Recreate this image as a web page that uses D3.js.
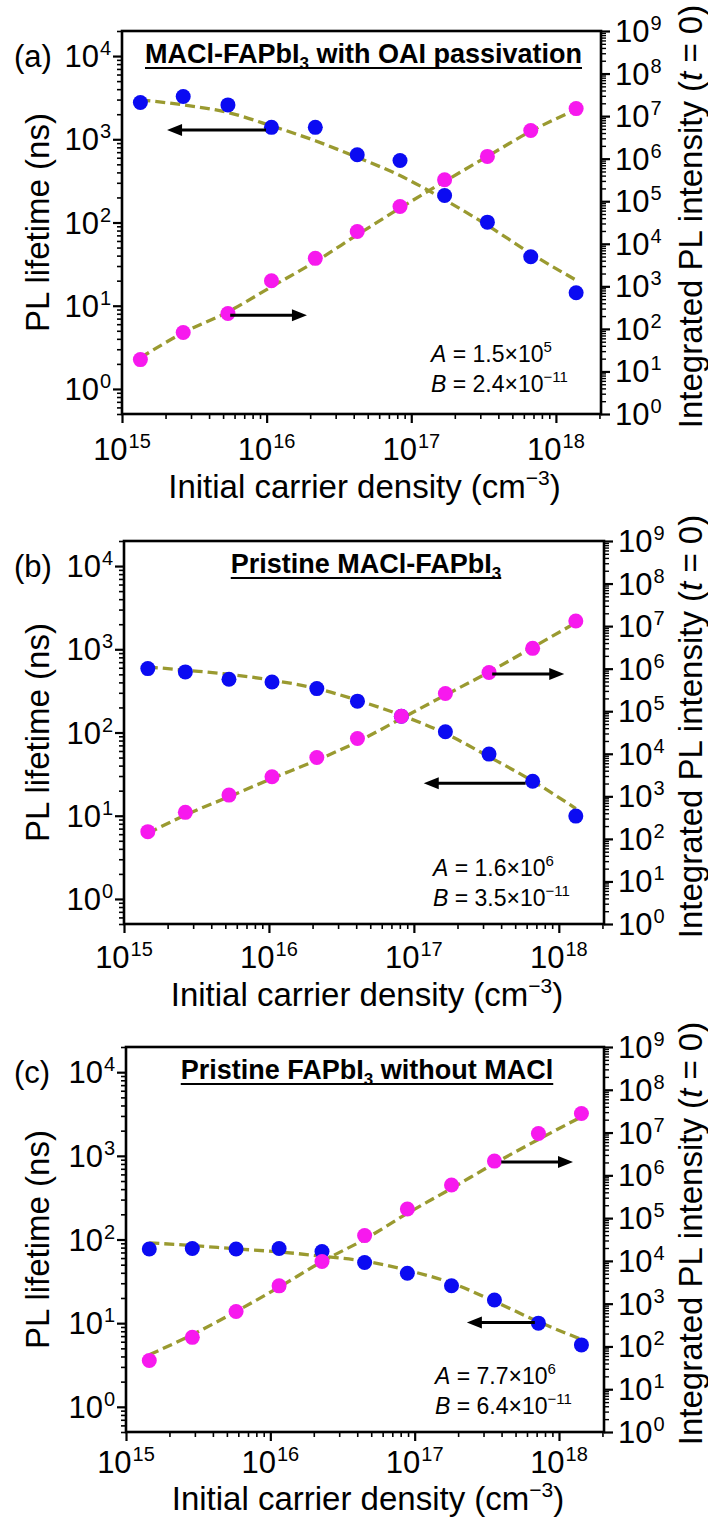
<!DOCTYPE html>
<html>
<head>
<meta charset="utf-8">
<script src="https://cdn.jsdelivr.net/npm/d3@7"></script>
<style>
  html, body { margin: 0; padding: 0; background: #fff; }
  svg { display: block; font-family: "Liberation Sans", Arial, Helvetica, sans-serif; }
</style>
</head>
<body>
<svg id="chart" width="708" height="1521"></svg>
<script>
// ---- Data -------------------------------------------------------------
// Initial carrier density (cm^-3) of each excitation fluence
const densityA = [1.34e15, 2.65e15, 5.4e15, 1.08e16, 2.17e16, 4.23e16, 8.36e16, 1.70e17, 3.36e17, 6.7e17, 1.38e18];
const densityB = [1.46e15, 2.65e15, 5.3e15, 1.05e16, 2.14e16, 4.08e16, 8.2e16, 1.65e17, 3.3e17, 6.6e17, 1.31e18];
const densityC = [1.45e15, 2.88e15, 5.79e15, 1.15e16, 2.28e16, 4.5e16, 8.9e16, 1.8e17, 3.57e17, 7.2e17, 1.43e18];

// PL lifetime (ns), left axis
const lifetimeA = [2770, 3260, 2590, 1390, 1390, 653, 555, 211, 101, 38.7, 14.3];
const lifetimeB = [586, 535, 437, 405, 337, 238, 157, 102, 55, 26, 9.9];
const lifetimeC = [77, 78, 77, 78, 72, 53, 39.5, 28, 18.9, 10, 5.5];

// Integrated PL intensity at t = 0, right axis
const intensityA = [19, 82, 230, 1350, 4550, 19400, 75000, 3.2e5, 1.13e6, 4.6e6, 1.5e7];
const intensityB = [148, 420, 1070, 2880, 8200, 22900, 76600, 2.6e5, 8.1e5, 3.0e6, 1.32e7];
const intensityC = [47, 163, 658, 2610, 9640, 39000, 1.63e5, 5.93e5, 2.15e6, 9.5e6, 2.79e7];

// Recombination model fits, sampled at the same densities
const lifetimeFitA = [2970, 2590, 2100, 1450, 960, 607, 366, 188, 92.5, 42.4, 20.3];
const lifetimeFitB = [614, 560, 501, 425, 337, 244, 161, 97.2, 51.1, 26.1, 12.2];
const lifetimeFitC = [91.2, 84.7, 77.3, 71.1, 63.1, 55, 42.9, 30.2, 18.2, 10.4, 6.4];
const intensityFitA = [21, 81, 251, 977, 3800, 16200, 69200, 2.92e5, 1.13e6, 4.4e6, 1.43e7];
const intensityFitB = [135, 363, 977, 2630, 7080, 19100, 67600, 2.4e5, 8.3e5, 3.16e6, 1.2e7];
const intensityFitC = [64, 188, 658, 2430, 9640, 32000, 1.29e5, 4.95e5, 1.9e6, 6.9e6, 2.33e7];

// Fitted coefficients
const coeffA = ["1.5", "5", "2.4", "\u221211"];
const coeffB = ["1.6", "6", "3.5", "\u221211"];
const coeffC = ["7.7", "6", "6.4", "\u221211"];

// Panel letters and sample names (prefix, subscript, suffix)
const panelLetters = ["(a)", "(b)", "(c)"];
const sampleNames = [
  ["MACl-FAPbI", "3", " with OAI passivation"],
  ["Pristine MACl-FAPbI", "3", ""],
  ["Pristine FAPbI", "3", " without MACl"]
];

// Direction arrows: [x tail, x head, lifetime-axis level]
const arrowsA = [[9.9e15, 2.05e15, 1290], [5.6e15, 1.9e16, 7.7]];
const arrowsB = [[3.47e17, 1.09e18, 506], [5.9e17, 1.17e17, 24.5]];
const arrowsC = [[3.98e17, 1.25e18, 845], [6.8e17, 2.3e17, 10.2]];

// Axis ranges
const densityDomain = [1e15, 2.05e18];
const lifetimeDomain = [0.5, 2e4];
const intensityDomain = [1, 1e9];

// ---- Layout -------------------------------------------------------------
const frames = [
  { left: 122, right: 601, top: 31, bottom: 414, blueOnTop: true,  coefY: 331, tickY: 46, titleY: 84 },
  { left: 124, right: 604, top: 541, bottom: 924, blueOnTop: false, coefY: 335, tickY: 44, titleY: 82 },
  { left: 126, right: 604, top: 1047, bottom: 1432, blueOnTop: false, coefY: 337, tickY: 41, titleY: 78 }
];

const panels = [
  { density: densityA, life: lifetimeA, inten: intensityA, lifeFit: lifetimeFitA, intenFit: intensityFitA, coef: coeffA, arrows: arrowsA },
  { density: densityB, life: lifetimeB, inten: intensityB, lifeFit: lifetimeFitB, intenFit: intensityFitB, coef: coeffB, arrows: arrowsB },
  { density: densityC, life: lifetimeC, inten: intensityC, lifeFit: lifetimeFitC, intenFit: intensityFitC, coef: coeffC, arrows: arrowsC }
];

const BLUE = "#0b0bf2";
const PINK = "#f719ee";
const OLIVE = "#9a9a30";
const TICK_FONT = 31;
const SUP_FONT = 20;
const TITLE_FONT = 33;

const svg = d3.select("#chart");
const isDecade = v => Math.abs(Math.log10(v) - Math.round(Math.log10(v))) < 1e-9;

function cleanAxis(g, width) {
  g.select(".domain").remove();
  g.selectAll(".tick line").attr("stroke", "#000").attr("stroke-width", width);
}

// "10" with a raised exponent, aligned as a whole at px
function powerLabel(g, px, py, exp, align) {
  const base = g.append("text")
    .attr("font-size", TICK_FONT)
    .attr("y", py)
    .text("10");
  const w = base.node().getComputedTextLength();
  const sup = g.append("text")
    .attr("font-size", SUP_FONT)
    .attr("y", py - 12)
    .text(exp);
  const sw = sup.node().getComputedTextLength();
  const total = w + 1 + sw;
  let x0;
  if (align === "middle") x0 = px - total / 2;
  else if (align === "end") x0 = px - total;
  else x0 = px;
  base.attr("x", x0);
  sup.attr("x", x0 + w + 1);
}

panels.forEach((p, i) => {
  const f = frames[i];
  const g = svg.append("g");

  const x = d3.scaleLog().domain(densityDomain).range([f.left, f.right]);
  const yL = d3.scaleLog().domain(lifetimeDomain).range([f.bottom, f.top]);
  const yR = d3.scaleLog().domain(intensityDomain).range([f.bottom, f.top]);

  // ticks: decades are major, 2..9 multiples minor
  const xt = x.ticks(), lt = yL.ticks(), rt = yR.ticks();
  const xMaj = xt.filter(isDecade), xMin = xt.filter(v => !isDecade(v));
  const lMaj = lt.filter(isDecade), lMin = lt.filter(v => !isDecade(v));
  const rMaj = rt.filter(isDecade), rMin = rt.filter(v => !isDecade(v));

  const bx = g.append("g").attr("transform", `translate(0,${f.bottom})`);
  bx.append("g").call(d3.axisBottom(x).tickValues(xMin).tickSize(5).tickFormat("")).call(s => cleanAxis(s, 1.6));
  bx.append("g").call(d3.axisBottom(x).tickValues(xMaj).tickSize(9).tickFormat("")).call(s => cleanAxis(s, 2.2));

  const lx = g.append("g").attr("transform", `translate(${f.left},0)`);
  lx.append("g").call(d3.axisLeft(yL).tickValues(lMin).tickSize(5).tickFormat("")).call(s => cleanAxis(s, 1.6));
  lx.append("g").call(d3.axisLeft(yL).tickValues(lMaj).tickSize(9).tickFormat("")).call(s => cleanAxis(s, 2.2));

  const rx = g.append("g").attr("transform", `translate(${f.right},0)`);
  rx.append("g").call(d3.axisRight(yR).tickValues(rMin).tickSize(5).tickFormat("")).call(s => cleanAxis(s, 1.4));
  rx.append("g").call(d3.axisRight(yR).tickValues(rMaj).tickSize(9).tickFormat("")).call(s => cleanAxis(s, 2.2));

  // frame
  g.append("rect")
    .attr("x", f.left).attr("y", f.top)
    .attr("width", f.right - f.left).attr("height", f.bottom - f.top)
    .attr("fill", "none").attr("stroke", "#000").attr("stroke-width", 2.6);

  // tick labels
  const labels = g.append("g").attr("fill", "#000");
  xMaj.forEach(v => powerLabel(labels, x(v), f.bottom + f.tickY, String(Math.round(Math.log10(v))), "middle"));
  lMaj.forEach(v => powerLabel(labels, f.left - 11, yL(v) + 11, String(Math.round(Math.log10(v))), "end"));
  rMaj.forEach(v => powerLabel(labels, f.right + 14, yR(v) + 11, String(Math.round(Math.log10(v))), "start"));

  // panel letter
  g.append("text")
    .attr("x", 14).attr("y", yL(1e4) + 11)
    .attr("font-size", TICK_FONT)
    .text(panelLetters[i]);

  // axis titles
  const xTitle = g.append("text")
    .attr("x", (f.left + f.right) / 2 + 3).attr("y", f.bottom + f.titleY)
    .attr("text-anchor", "middle").attr("font-size", TITLE_FONT);
  xTitle.append("tspan").text("Initial carrier density (cm");
  xTitle.append("tspan").attr("font-size", 21).attr("dy", -13).text("\u22123");
  xTitle.append("tspan").attr("dy", 13).text(")");

  const midY = (f.top + f.bottom) / 2;
  g.append("text")
    .attr("transform", `translate(37,${midY}) rotate(-90)`)
    .attr("text-anchor", "middle").attr("dy", "0.35em")
    .attr("font-size", TITLE_FONT)
    .text("PL lifetime (ns)");

  const rTitle = g.append("text")
    .attr("transform", `translate(690,${midY - 6}) rotate(-90)`)
    .attr("text-anchor", "middle").attr("dy", "0.35em")
    .attr("font-size", TITLE_FONT);
  rTitle.append("tspan").text("Integrated PL intensity (");
  rTitle.append("tspan").attr("font-style", "italic").text("t");
  rTitle.append("tspan").text(" = 0)");

  // sample name, bold and underlined
  const nm = sampleNames[i];
  const title = g.append("text")
    .attr("x", (f.left + f.right) / 2 + 2).attr("y", f.top + 32)
    .attr("text-anchor", "middle").attr("font-size", 27).attr("font-weight", "bold");
  title.append("tspan").text(nm[0]);
  title.append("tspan").attr("font-size", 17).attr("dy", 6).text(nm[1]);
  title.append("tspan").attr("dy", -6).text(nm[2]);
  const tb = title.node().getBBox();
  g.append("line")
    .attr("x1", tb.x).attr("x2", tb.x + tb.width)
    .attr("y1", f.top + 37).attr("y2", f.top + 37)
    .attr("stroke", "#000").attr("stroke-width", 2);

  // fitted curves
  const lineL = d3.line().x((d, k) => x(p.density[k])).y(d => yL(d)).curve(d3.curveMonotoneX);
  const lineR = d3.line().x((d, k) => x(p.density[k])).y(d => yR(d)).curve(d3.curveMonotoneX);
  [[p.lifeFit, lineL], [p.intenFit, lineR]].forEach(([arr, ln]) => {
    g.append("path").datum(arr).attr("d", ln)
      .attr("fill", "none").attr("stroke", OLIVE)
      .attr("stroke-width", 3.3).attr("stroke-dasharray", "10,5");
  });

  // data markers
  const drawBlue = () => g.append("g").selectAll("circle").data(p.life).join("circle")
    .attr("cx", (d, k) => x(p.density[k])).attr("cy", d => yL(d)).attr("r", 7.5).attr("fill", BLUE);
  const drawPink = () => g.append("g").selectAll("circle").data(p.inten).join("circle")
    .attr("cx", (d, k) => x(p.density[k])).attr("cy", d => yR(d)).attr("r", 7.5).attr("fill", PINK);
  if (f.blueOnTop) { drawPink(); drawBlue(); } else { drawBlue(); drawPink(); }

  // direction arrows
  p.arrows.forEach(([xt0, xh, lv]) => {
    const x0 = x(xt0), x1 = x(xh), yy = yL(lv);
    const dir = Math.sign(x1 - x0);
    const hl = 15, hw = 6;
    g.append("line")
      .attr("x1", x0).attr("x2", x1 - dir * (hl - 2))
      .attr("y1", yy).attr("y2", yy)
      .attr("stroke", "#000").attr("stroke-width", 3);
    g.append("path")
      .attr("d", `M${x1},${yy} L${x1 - dir * hl},${yy - hw} L${x1 - dir * hl},${yy + hw} Z`)
      .attr("fill", "#000");
  });

  // fitted coefficients
  const ct = g.append("g").attr("font-size", 23);
  const cx = f.left + 309;
  const t1 = ct.append("text").attr("x", cx).attr("y", f.top + f.coefY);
  t1.append("tspan").attr("font-style", "italic").text("A");
  t1.append("tspan").text(" = " + p.coef[0] + "\u00d710");
  t1.append("tspan").attr("font-size", 15).attr("dy", -10).text(p.coef[1]);
  const t2 = ct.append("text").attr("x", cx).attr("y", f.top + f.coefY + 30);
  t2.append("tspan").attr("font-style", "italic").text("B");
  t2.append("tspan").text(" = " + p.coef[2] + "\u00d710");
  t2.append("tspan").attr("font-size", 15).attr("dy", -10).text(p.coef[3]);
});
</script>
</body>
</html>
